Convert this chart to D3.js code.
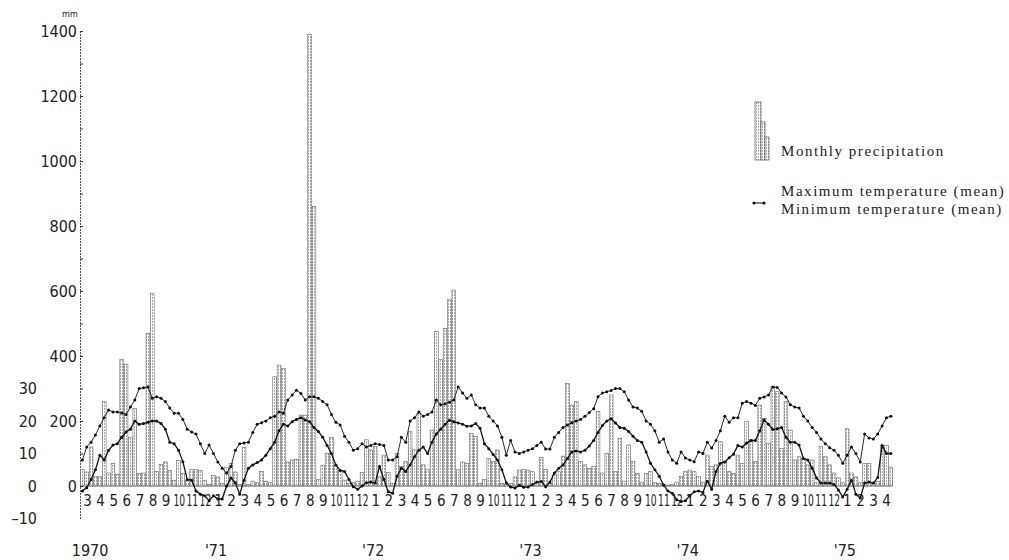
<!DOCTYPE html>
<html>
<head>
<meta charset="utf-8">
<script src="https://cdn.jsdelivr.net/npm/d3@7"></script>
<style>
  body { margin: 0; background: #fff; }
  svg { display: block; }
  .num { font-family: "Liberation Sans Narrow", "DejaVu Sans Condensed", sans-serif; fill: #222; }
  .leg { font-family: "Liberation Serif", "DejaVu Serif", serif; fill: #222; }
</style>
</head>
<body>
<div id="chart"></div>
<script>
// 10-day values, March 1970 .. April 1975 (3 per month)
const precip = [
  // 1970 Mar-Dec
  50,43,120, 30,30,260, 40,70,35, 390,375,150, 238,38,40, 470,593,45, 66,74,48, 17,79,38, 17,50,50, 48,17,5,
  // 1971
  33,28,8, 58,69,43, 5,118,5, 15,10,45, 15,10,336, 372,362,74, 80,82,218, 218,1390,860, 20,64,100, 150,64,48, 18,8,10, 15,41,142,
  // 1972
  111,121,30, 95,41,8, 100,60,75, 167,111,224, 65,50,172, 475,390,485, 573,603,50, 74,70,162, 152,8,20, 85,75,111, 8,5,8, 28,49,51,
  // 1973
  49,44,10, 88,51,8, 34,44,92, 316,249,260, 75,65,54, 60,229,40, 100,280,44, 147,15,126, 75,38,12, 38,44,10, 8,5,3, 5,12,29,
  // 1974
  44,49,44, 29,12,95, 60,65,136, 75,44,39, 95,70,198, 142,75,249, 208,131,306, 290,116,260, 172,80,90, 85,65,80, 10,121,90, 65,40,25,
  // 1975 Jan-Apr
  10,176,40, 28,10,69, 69,10,15, 125,125,58
];

const tMax = [
  8,12,13.5, 15.7,18.5,21, 23.4,22.8,22.8, 22.5,22,24.3, 26.5,30,30.2, 30.5,27,27.5, 27,26,24, 22.4,22.4,20.5, 17.5,16.6,16, 13,10,12.6,
  10,7.4,5.5, 4,6,11, 13,13.2,13.5, 16.5,19,19.5, 20,21,21.5, 22.8,22.4,26.5, 28,29.5,28.5, 26.5,27.5,27.5, 27,26,25, 22,19.6,18.8, 15.3,13.5,11, 11.5,13,12,
  12.5,13,12.8, 12.5,8,8, 9,15,13.5, 20,21,22.8, 21.5,22,22.8, 26.5,25,25.3, 25.8,26.5,30.5, 28.6,27,28, 25,24,24, 21.5,20,18.5, 15,9.5,14, 10.5,10,10.5,
  11,11.5,12.5, 13.5,11.4,11.4, 15,16.5,18, 18.8,19.5,20, 20.5,21.5,22.6, 23.8,27.5,28.6, 29,29.4,30, 30,29,26.5, 24.3,24,23, 20,19,17, 13.5,14.5,10.5, 8,7,10.5,
  8.6,8,7.5, 10.5,10,13.5, 11.7,14,17, 21.5,19.6,21, 21,25.5,26, 25.5,24.8,27, 27.4,28,30.5, 30.3,28.6,27.4, 25,24.3,24, 21.5,20,18, 16.5,14.5,13, 11.8,11,9.5,
  7,9.5,12, 10,7.4,16, 14.8,14.5,16, 18.5,21,21.5
];

const tMin = [
  -1.5,-0.5,2, 5,9.5,8, 11,12.6,13, 15,16.6,17.5, 20,19,19.2, 19.6,20,20, 19.2,17.5,13.5, 13,11,7.5, 2,1.8,-1.5, -2.5,-3,-4.5,
  -3,-4,-4, 0,2.5,1, -2.5,1.8,5.5, 6.5,7.2,8, 9.5,11.5,13.5, 17,19,18.5, 19.8,20.5,21, 20.3,19.8,18, 16.8,15,12.5, 10,6.5,4.8, 4.5,2,-0.2, -1,0,1,
  1.2,0.9,6, 2,-1.8,-2.2, 3,5.5,4.5, 6.5,9,11, 12,10,13.5, 16,17.5,19, 20.2,19.8,19.4, 19,18.4,18.5, 19.2,17.8,13, 11.5,9.7,8, 5,1,-0.3, -0.6,0.2,-0.4,
  -0.3,0.5,1.2, 1.4,-0.2,1.2, 4,5.5,6.5, 8.5,10.5,10.8, 10.5,11,12.3, 14,16.5,18.6, 20,20.7,19.4, 18,17.8,16.8, 15.3,14,13.5, 10.5,7,5, 3,0.3,-1.5, -2.2,-4.2,-4.8,
  -4.5,-3,-1.8, -1.5,-2,1.5, -1,4.5,7, 7.4,8.7,9.8, 12.5,12,13.2, 14,14,17, 20.3,19,17.4, 17.6,18,15, 13.5,13.5,12.6, 8.5,8,5.5, 2.5,0.9,0.9, 0.9,0.5,-1.2,
  -3.4,-1,1.8, -2.5,-3.7,0.9, 1.2,0.9,2.6, 12.5,10,10
];

const monthLabels = [
  "3","4","5","6","7","8","9","10","11","12",
  "1","2","3","4","5","6","7","8","9","10","11","12",
  "1","2","3","4","5","6","7","8","9","10","11","12",
  "1","2","3","4","5","6","7","8","9","10","11","12",
  "1","2","3","4","5","6","7","8","9","10","11","12",
  "1","2","3","4"
];
const yearLabels = ["1970", "'71", "'72", "'73", "'74", "'75"];
const yearMonth = [0, 10, 22, 34, 46, 58];

const precipTicks = d3.range(0, 1401, 100);
const tempTicks = [30, 20, 10, 0, -10];

const legendItems = ["Monthly precipitation", "Maximum temperature (mean)", "Minimum temperature (mean)"];

const W = 1009, H = 560;
const svg = d3.select("#chart").append("svg")
  .attr("width", W).attr("height", H);

const defs = svg.append("defs");
const pat = defs.append("pattern").attr("id", "stip")
  .attr("width", 2).attr("height", 3).attr("patternUnits", "userSpaceOnUse");
pat.append("rect").attr("width", 2).attr("height", 3).attr("fill", "#fff");
pat.append("rect").attr("width", 1).attr("height", 2).attr("fill", "#aaa");

// scales
const x0 = 80.5, x1 = 892.7;
const xDek = d3.scaleBand().domain(d3.range(precip.length)).range([x0, x1]).paddingInner(0.15);
const xMon = d3.scaleLinear().domain([0, monthLabels.length]).range([x0, x1]);
const yP = d3.scaleLinear().domain([-100, 1400]).range([518.5, 31]);
const yT = d3.scaleLinear().domain([-10, 30]).range([518.5, 388.5]);

// precipitation axis
const axP = svg.append("g")
  .attr("transform", "translate(80,0)")
  .call(d3.axisLeft(yP).tickValues(precipTicks)
    .tickSizeInner(-3).tickSizeOuter(0).tickPadding(3)
    .tickFormat(d => d % 200 === 0 ? d : ""));
axP.select(".domain").attr("stroke", "#555").attr("stroke-dasharray", "2,1");
axP.selectAll(".tick line").attr("stroke", "#333");
axP.selectAll("text").attr("class", "num").style("font-size", "16px");

// temperature labels
const axT = svg.append("g")
  .attr("transform", "translate(37,0)")
  .call(d3.axisLeft(yT).tickValues(tempTicks).tickSize(0).tickPadding(0)
    .tickFormat(d => d < 0 ? "\u2013" + Math.abs(d) : d));
axT.select(".domain").remove();
axT.selectAll("text").attr("class", "num").style("font-size", "16px");

svg.append("text").attr("class", "num")
  .attr("x", 70).attr("y", 17).attr("text-anchor", "middle")
  .style("font-size", "9px").text("mm");

// month / year labels
const axM = svg.append("g")
  .attr("transform", "translate(0,495)")
  .call(d3.axisBottom(xMon).tickValues(d3.range(monthLabels.length).map(m => m + 0.5))
    .tickSize(0).tickPadding(0).tickFormat((d, i) => monthLabels[i]));
axM.select(".domain").remove();
axM.selectAll("text")
  .attr("class", "num")
  .style("font-size", "15px")
  .each(function () {
    // squeeze 10, 11, 12 like the printed axis
    if (this.textContent.length > 1) d3.select(this).attr("transform", "scale(0.68,1)");
  });

svg.append("g").selectAll("text")
  .data(yearLabels)
  .join("text")
  .attr("class", "num")
  .attr("x", (d, i) => xMon(yearMonth[i] + 0.5) + (i === 0 ? 3 : -2))
  .attr("y", 556)
  .attr("text-anchor", "middle")
  .style("font-size", "16px")
  .text(d => d);

// precipitation bars
svg.append("g").selectAll("rect")
  .data(precip)
  .join("rect")
  .attr("x", (d, i) => xDek(i))
  .attr("y", d => yP(d))
  .attr("width", xDek.bandwidth())
  .attr("height", d => yP(0) - yP(d))
  .attr("fill", "url(#stip)")
  .attr("stroke", "#666")
  .attr("stroke-width", 0.6);

// zero line
svg.append("line")
  .attr("x1", x0).attr("x2", x1)
  .attr("y1", yP(0)).attr("y2", yP(0))
  .attr("stroke", "#333").attr("stroke-dasharray", "1,1");

// temperature lines
const cx = i => xDek(i) + xDek.bandwidth() / 2;
const line = d3.line().x((d, i) => cx(i)).y(d => yT(d));

[[tMax, 0.9], [tMin, 1.3]].forEach(([ser, sw]) => {
  svg.append("path").datum(ser)
    .attr("fill", "none").attr("stroke", "#111")
    .attr("stroke-width", sw).attr("d", line);
  svg.append("g").selectAll("circle")
    .data(ser)
    .join("circle")
    .attr("cx", (d, i) => cx(i))
    .attr("cy", d => yT(d))
    .attr("r", 1.5)
    .attr("fill", "#111");
});

// legend
const lg = svg.append("g");
const legBars = [58, 38, 23];
const legW = [6, 4, 4];
let lx = 755;
legBars.forEach((h, i) => {
  lg.append("rect").attr("x", lx).attr("y", 160 - h)
    .attr("width", legW[i]).attr("height", h)
    .attr("fill", "url(#stip)").attr("stroke", "#555").attr("stroke-width", 0.7);
  lx += legW[i];
});
lg.append("line").attr("x1", 754).attr("x2", 764).attr("y1", 203).attr("y2", 203)
  .attr("stroke", "#111");
lg.selectAll("circle.k").data([754, 764]).join("circle")
  .attr("cx", d => d).attr("cy", 203).attr("r", 1.6).attr("fill", "#111");

lg.selectAll("text")
  .data(legendItems)
  .join("text")
  .attr("class", "leg")
  .attr("x", 781)
  .attr("y", (d, i) => [156, 196, 214][i])
  .style("font-size", "15px")
  .style("letter-spacing", "1.55px")
  .text(d => d);
</script>
</body>
</html>
